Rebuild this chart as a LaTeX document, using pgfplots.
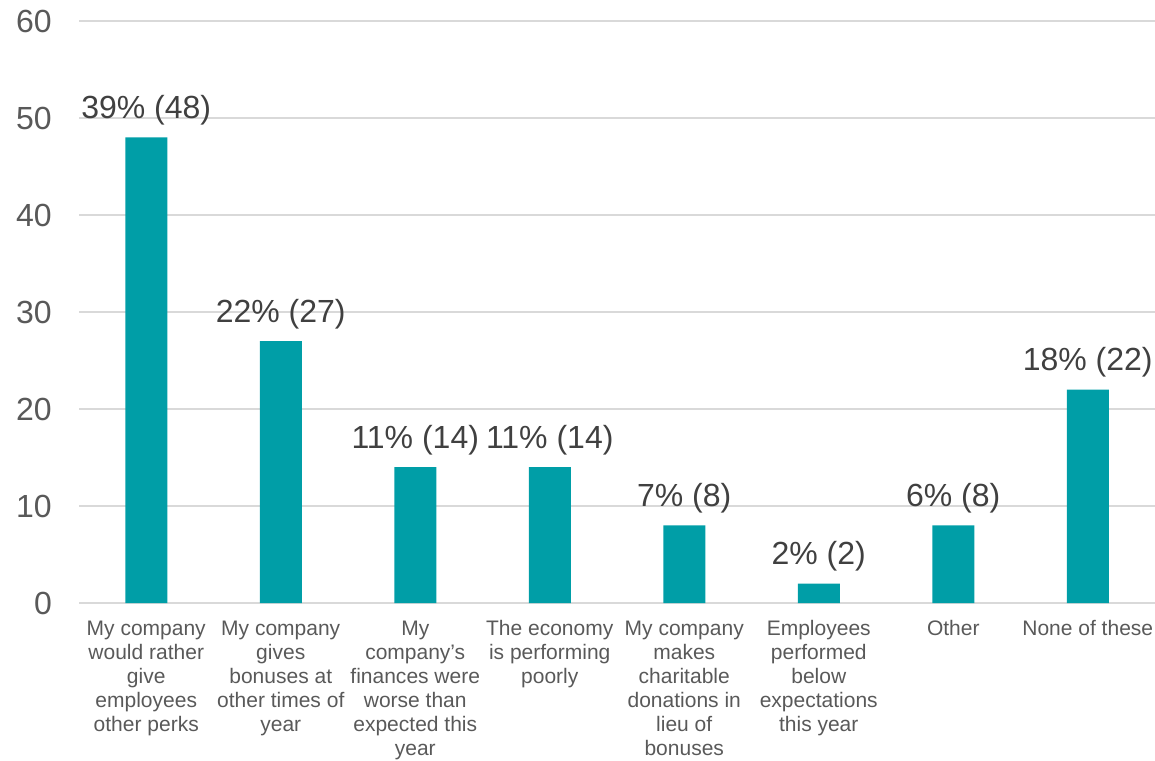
\documentclass[border=0pt]{standalone}
\usepackage{pgfplots}
\pgfplotsset{compat=1.18}
\usepackage{fontspec}
\setmainfont{Liberation Sans}
\definecolor{barteal}{HTML}{009EA7}
\definecolor{gridgray}{HTML}{D9D9D9}
\definecolor{ticktext}{HTML}{595959}
\definecolor{labtext}{HTML}{404040}
\begin{document}
\begin{tikzpicture}
\begin{axis}[
  name=ax,
  scale only axis,
  width=1076pt, height=582pt,
  xmin=-0.5, xmax=7.5,
  ymin=0, ymax=60,
  ytick={0,10,...,60},
  xtick={0,...,7},
  xticklabels={
    {My company\\would rather\\give\\employees\\other perks},
    {My company\\gives\\bonuses at\\other times of\\year},
    {My\\company’s\\finances were\\worse than\\expected this\\year},
    {The economy\\is performing\\poorly},
    {My company\\makes\\charitable\\donations in\\lieu of\\bonuses},
    {Employees\\performed\\below\\expectations\\this year},
    {Other},
    {None of these}},
  axis x line*=bottom,
  axis y line*=left,
  y axis line style={draw=none},
  x axis line style={draw=gridgray, line width=1.6pt, -},
  major tick length=0pt,
  ymajorgrids,
  grid style={draw=gridgray, line width=1.2pt},
  /pgf/number format/assume math mode=true,
  yticklabel style={font=\fontsize{32}{38}\selectfont, text=ticktext, inner sep=0pt, xshift=-27pt},
  xticklabel style={font=\fontsize{21}{24}\selectfont, text=ticktext, align=center, inner sep=0pt, anchor=north, yshift=-17.5pt},
  ybar, bar width=42pt,
  point meta=explicit symbolic,
  nodes near coords,
  every node near coord/.append style={font=\fontsize{32}{37}\selectfont, text=labtext, anchor=south, inner sep=0pt, yshift=12pt},
]
\addplot[fill=barteal, draw=none] coordinates {
  (0,48) [39\% (48)]
  (1,27) [22\% (27)]
  (2,14) [11\% (14)]
  (3,14) [11\% (14)]
  (4,8) [7\% (8)]
  (5,2) [2\% (2)]
  (6,8) [6\% (8)]
  (7,22) [18\% (22)]
};
\end{axis}
\pgfresetboundingbox
\path[use as bounding box] ([xshift=-79pt,yshift=-157pt]ax.south west) rectangle ([yshift=21pt]ax.north east);
\end{tikzpicture}
\end{document}
